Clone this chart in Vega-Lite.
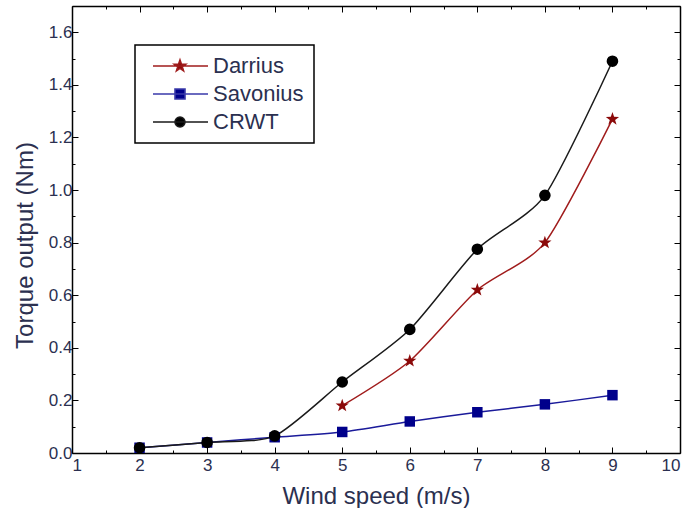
{
  "$schema": "https://vega.github.io/schema/vega-lite/v6.json",
  "autosize": {"type": "none"},
  "width": 608,
  "height": 447,
  "padding": {"left": 72, "top": 6, "right": 8, "bottom": 55},
  "background": "white",
  "data": {"values": [
    {"speed": 5, "torque": 0.18, "series": "Darrius"},
    {"speed": 6, "torque": 0.35, "series": "Darrius"},
    {"speed": 7, "torque": 0.62, "series": "Darrius"},
    {"speed": 8, "torque": 0.80, "series": "Darrius"},
    {"speed": 9, "torque": 1.27, "series": "Darrius"},
    {"speed": 2, "torque": 0.02, "series": "Savonius"},
    {"speed": 3, "torque": 0.04, "series": "Savonius"},
    {"speed": 4, "torque": 0.06, "series": "Savonius"},
    {"speed": 5, "torque": 0.08, "series": "Savonius"},
    {"speed": 6, "torque": 0.12, "series": "Savonius"},
    {"speed": 7, "torque": 0.155, "series": "Savonius"},
    {"speed": 8, "torque": 0.185, "series": "Savonius"},
    {"speed": 9, "torque": 0.22, "series": "Savonius"},
    {"speed": 2, "torque": 0.02, "series": "CRWT"},
    {"speed": 3, "torque": 0.04, "series": "CRWT"},
    {"speed": 4, "torque": 0.065, "series": "CRWT"},
    {"speed": 5, "torque": 0.27, "series": "CRWT"},
    {"speed": 6, "torque": 0.47, "series": "CRWT"},
    {"speed": 7, "torque": 0.775, "series": "CRWT"},
    {"speed": 8, "torque": 0.98, "series": "CRWT"},
    {"speed": 9, "torque": 1.49, "series": "CRWT"}
  ]},
  "config": {
    "view": {"stroke": null},
    "font": "Liberation Sans",
    "axis": {
      "domainColor": "black",
      "domainWidth": 1.5,
      "tickColor": "black",
      "tickWidth": 1,
      "grid": false,
      "labelFont": "Liberation Sans",
      "labelFontSize": 17,
      "labelColor": "#2b3050",
      "titleFont": "Liberation Sans",
      "titleFontSize": 24,
      "titleFontWeight": "normal",
      "titleColor": "#2b3050"
    },
    "legend": {
      "labelFont": "Liberation Sans",
      "labelFontSize": 22,
      "labelColor": "#2b3050"
    }
  },
  "resolve": {
    "axis": {"x": "independent", "y": "independent"}
  },
  "layer": [
    {
      "mark": {"type": "line", "interpolate": "cardinal", "tension": 0.3, "strokeWidth": 1.5},
      "encoding": {
        "x": {
          "field": "speed", "type": "quantitative",
          "scale": {"domain": [1, 10], "nice": false, "zero": false},
          "axis": {
            "orient": "bottom",
            "title": "Wind speed (m/s)",
            "values": [1, 1.5, 2, 2.5, 3, 3.5, 4, 4.5, 5, 5.5, 6, 6.5, 7, 7.5, 8, 8.5, 9, 9.5, 10],
            "labelExpr": "datum.value % 1 === 0 ? format(datum.value, 'd') : ''",
            "tickSize": {"condition": {"test": "datum.value % 1 === 0", "value": -6}, "value": -3},
            "labelPadding": 10,
            "titlePadding": 11
          }
        },
        "y": {
          "field": "torque", "type": "quantitative",
          "scale": {"domain": [0, 1.7], "nice": false},
          "axis": {
            "orient": "left",
            "title": "Torque output (Nm)",
            "values": [0, 0.1, 0.2, 0.3, 0.4, 0.5, 0.6, 0.7, 0.8, 0.9, 1.0, 1.1, 1.2, 1.3, 1.4, 1.5, 1.6, 1.7],
            "labelExpr": "round(datum.value * 10) % 2 === 0 && datum.value < 1.65 ? format(datum.value, '.1f') : ''",
            "tickSize": {"condition": {"test": "round(datum.value * 10) % 2 === 0", "value": -6}, "value": -3},
            "labelPadding": 6,
            "titlePadding": 11,
            "titleY": 239
          }
        },
        "color": {
          "field": "series", "type": "nominal",
          "scale": {"range": ["#1a1a1a", "#a01c1c", "#1a1a9a"]},
          "legend": null
        }
      }
    },
    {
      "transform": [{"filter": "datum.series === 'Darrius'"}],
      "mark": {
        "type": "point", "filled": true, "opacity": 1, "size": 135, "color": "#8b0a0a",
        "shape": "M0,-1.2L0.282,-0.389L1.141,-0.371L0.457,0.148L0.706,0.971L0,0.48L-0.706,0.971L-0.457,0.148L-1.141,-0.371L-0.282,-0.389Z"
      },
      "encoding": {
        "x": {
          "field": "speed", "type": "quantitative",
          "axis": {
            "orient": "top", "title": null, "labels": false,
            "values": [1, 1.5, 2, 2.5, 3, 3.5, 4, 4.5, 5, 5.5, 6, 6.5, 7, 7.5, 8, 8.5, 9, 9.5, 10],
            "tickSize": {"condition": {"test": "datum.value % 1 === 0", "value": -6}, "value": -3}
          }
        },
        "y": {
          "field": "torque", "type": "quantitative",
          "axis": {
            "orient": "right", "title": null, "labels": false,
            "values": [0, 0.1, 0.2, 0.3, 0.4, 0.5, 0.6, 0.7, 0.8, 0.9, 1.0, 1.1, 1.2, 1.3, 1.4, 1.5, 1.6, 1.7],
            "tickSize": {"condition": {"test": "round(datum.value * 10) % 2 === 0", "value": -6}, "value": -3}
          }
        }
      }
    },
    {
      "transform": [{"filter": "datum.series === 'Savonius'"}],
      "mark": {"type": "point", "filled": true, "opacity": 1, "size": 110, "color": "#00008b", "shape": "square"},
      "encoding": {
        "x": {"field": "speed", "type": "quantitative", "axis": null},
        "y": {"field": "torque", "type": "quantitative", "axis": null}
      }
    },
    {
      "transform": [{"filter": "datum.series === 'CRWT'"}],
      "mark": {"type": "point", "filled": true, "opacity": 1, "size": 135, "color": "#000000", "shape": "circle"},
      "encoding": {
        "x": {"field": "speed", "type": "quantitative", "axis": null},
        "y": {"field": "torque", "type": "quantitative", "axis": null}
      }
    },
    {
      "mark": {"type": "point", "filled": true, "size": 100, "opacity": 0},
      "encoding": {
        "x": {"field": "speed", "type": "quantitative", "axis": null},
        "y": {"field": "torque", "type": "quantitative", "axis": null},
        "fill": {
          "field": "series", "type": "nominal",
          "scale": {"domain": ["Darrius", "Savonius", "CRWT"], "range": ["#8b0a0a", "#00008b", "#000000"]},
          "legend": {
            "title": null, "orient": "none", "legendX": 63, "legendY": 39, "padding": 10,
            "strokeColor": "black", "fillColor": "white", "symbolSize": 100, "symbolOpacity": 1,
            "symbolStrokeWidth": 1.6, "labelOffset": 46, "rowPadding": 6,
            "encode": {"legend": {"update": {"strokeWidth": {"value": 1.5}}}}
          }
        },
        "stroke": {
          "field": "series", "type": "nominal",
          "scale": {"domain": ["Darrius", "Savonius", "CRWT"], "range": ["#a01c1c", "#3a3aaa", "#1a1a1a"]},
          "legend": {
            "title": null, "orient": "none", "legendX": 63, "legendY": 39, "padding": 10,
            "strokeColor": "black", "fillColor": "white", "symbolSize": 100, "symbolOpacity": 1,
            "symbolStrokeWidth": 1.6, "labelOffset": 46, "rowPadding": 6,
            "encode": {"legend": {"update": {"strokeWidth": {"value": 1.5}}}}
          }
        },
        "shape": {
          "field": "series", "type": "nominal",
          "scale": {
            "domain": ["Darrius", "Savonius", "CRWT"],
            "range": [
              "M-0.6,0H10.4M4.8,-1.2L5.082,-0.389L5.941,-0.371L5.257,0.148L5.506,0.971L4.8,0.48L4.094,0.971L4.343,0.148L3.659,-0.371L4.518,-0.389Z",
              "M-0.6,0H10.4M3.8,-1H5.8V1H3.8Z",
              "M-0.6,0H10.4M5.8,0C5.8,0.552,5.352,1,4.8,1C4.248,1,3.8,0.552,3.8,0C3.8,-0.552,4.248,-1,4.8,-1C5.352,-1,5.8,-0.552,5.8,0Z"
            ]
          },
          "legend": {
            "title": null, "orient": "none", "legendX": 63, "legendY": 39, "padding": 10,
            "strokeColor": "black", "fillColor": "white", "symbolSize": 100, "symbolOpacity": 1,
            "symbolStrokeWidth": 1.6, "labelOffset": 46, "rowPadding": 6,
            "encode": {"legend": {"update": {"strokeWidth": {"value": 1.5}}}}
          }
        }
      }
    }
  ]
}
